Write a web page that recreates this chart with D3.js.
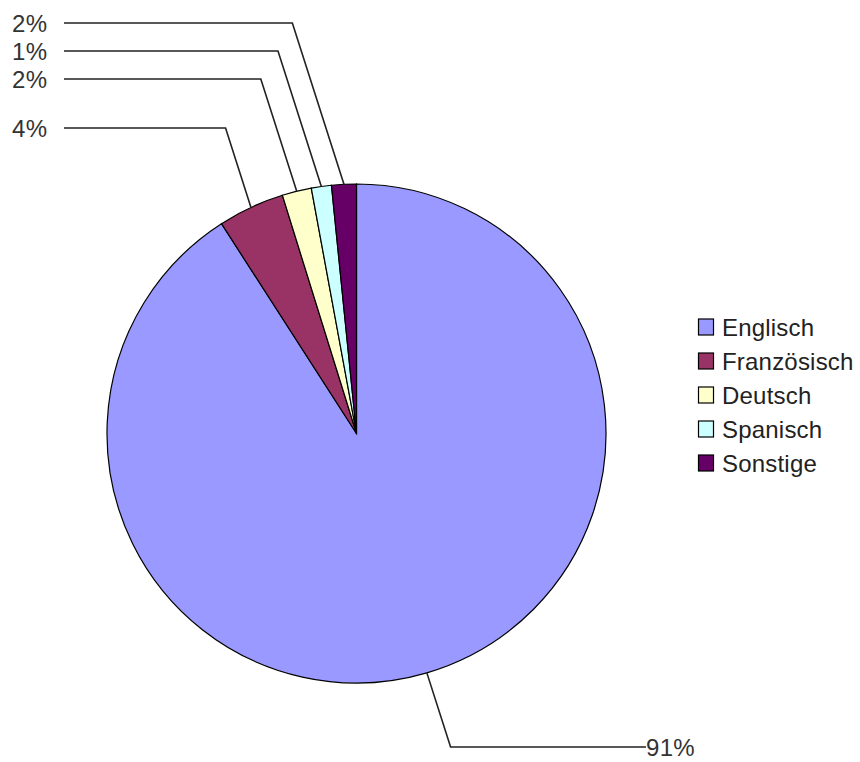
<!DOCTYPE html>
<html>
<head>
<meta charset="utf-8">
<script src="https://cdn.jsdelivr.net/npm/d3@7"></script>
<style>
  html, body { margin: 0; padding: 0; background: #fff; }
  svg { display: block; font-family: "Liberation Sans", Arial, sans-serif; }
</style>
</head>
<body>
<svg id="chart" width="860" height="762"></svg>
<script>
// Sprachen – Anteile in Prozent
const categories = ["Englisch", "Französisch", "Deutsch", "Spanisch", "Sonstige"];
const shares = [90.9, 4.3, 1.9, 1.3, 1.6];
const colors = ["#9999FF", "#993366", "#FFFFCC", "#CCFFFF", "#660066"];

// Vertical position of each percentage label (leader line level)
const labelLevels = [747, 128, 79, 51, 23];

const width = 860, height = 762;
const cx = 356.5, cy = 433.5, radius = 249.5;
const leaderSlope = 0.32;     // horizontal run per unit of vertical run
const leftLabelX = 64;

const svg = d3.select("#chart");

const data = categories.map((c, i) => ({ name: c, value: shares[i], color: colors[i], labelY: labelLevels[i] }));

const pie = d3.pie().value(d => d.value).sort(null);
const arcs = pie(data);
const arc = d3.arc().innerRadius(0).outerRadius(radius);

const g = svg.append("g").attr("transform", `translate(${cx},${cy})`);

g.selectAll("path.slice")
  .data(arcs)
  .enter().append("path")
  .attr("class", "slice")
  .attr("d", arc)
  .attr("fill", d => d.data.color)
  .attr("stroke", "#000")
  .attr("stroke-width", 1.2);

// Leader lines and percentage labels
const fmt = v => Math.round(v) + "%";
arcs.forEach(a => {
  const mid = (a.startAngle + a.endAngle) / 2;
  const px = cx + radius * Math.sin(mid);
  const py = cy - radius * Math.cos(mid);
  const ly = a.data.labelY;
  const dy = Math.abs(ly - py);
  const right = Math.sin(mid) > 0;
  const ex = right ? px + dy * leaderSlope : px - dy * leaderSlope;
  let pts, tx;
  if (right) {
    const endX = 646;
    pts = [[px, py], [ex, ly], [endX, ly]];
    tx = endX;
  } else {
    pts = [[px, py], [ex, ly], [leftLabelX, ly]];
    tx = 12;
  }
  svg.append("path")
    .attr("d", d3.line()(pts))
    .attr("fill", "none")
    .attr("stroke", "#222")
    .attr("stroke-width", 1.6);
  svg.append("text")
    .attr("x", tx)
    .attr("y", ly)
    .attr("dy", "0.36em")
    .attr("font-size", 24)
    .attr("letter-spacing", 0.3)
    .attr("fill", "#333")
    .text(fmt(a.data.value));
});

// Legend
const legendY = d3.scalePoint().domain(categories).range([327, 463]);
const legend = svg.append("g");
const items = legend.selectAll("g.item")
  .data(data)
  .enter().append("g")
  .attr("class", "item")
  .attr("transform", d => `translate(698,${legendY(d.name)})`);

items.append("rect")
  .attr("x", 0.5)
  .attr("y", -8)
  .attr("width", 15)
  .attr("height", 16)
  .attr("fill", d => d.color)
  .attr("stroke", "#000")
  .attr("stroke-width", 1.2);

items.append("text")
  .attr("x", 24)
  .attr("y", 0)
  .attr("dy", "0.36em")
  .attr("font-size", 24)
  .attr("letter-spacing", 0.2)
  .attr("fill", "#222")
  .text(d => d.name);
</script>
</body>
</html>
